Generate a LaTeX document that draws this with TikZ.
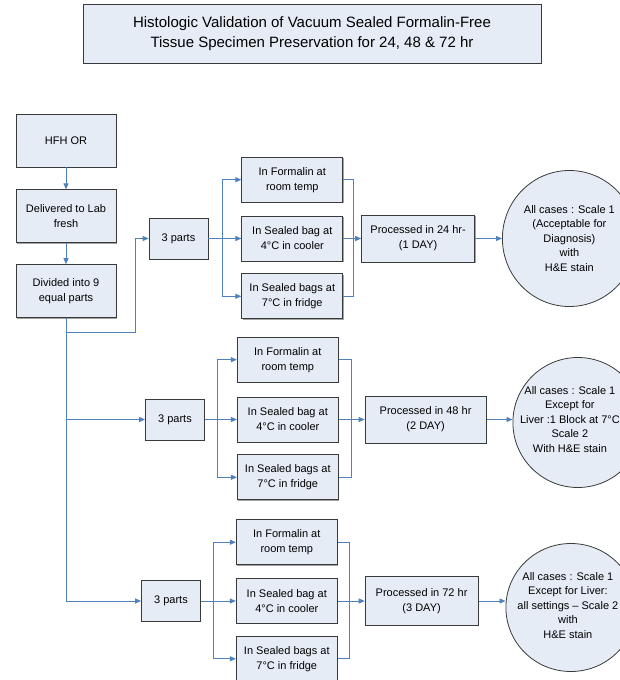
\documentclass[tikz,border=0pt]{standalone}
\usepackage{fontspec}
\setmainfont{Liberation Sans}
\usetikzlibrary{positioning,calc,shapes.geometric,arrows.meta,shadows}

\definecolor{boxfill}{HTML}{E6ECF6}
\definecolor{flowblue}{HTML}{4F81BD}
\definecolor{boxline}{HTML}{3A3A3A}

\tikzset{
  box/.style={draw=boxline, fill=boxfill, line width=0.8pt, align=center,
    inner sep=2pt, font=\fontsize{11}{15}\selectfont,
    drop shadow={shadow xshift=0.9pt, shadow yshift=-0.9pt, fill=black!60, opacity=0.6}},
  stage/.style={box, minimum width=100pt, minimum height=53pt},
  part/.style={box, minimum width=59pt, minimum height=41pt},
  cond/.style={box, minimum width=101pt, minimum height=45pt},
  proc/.style={box, minimum width=113pt, minimum height=47pt},
  result/.style={ellipse, draw=boxline, fill=boxfill, line width=0.8pt,
    inner sep=0pt, minimum width=132pt, minimum height=132pt},
  restext/.style={align=center, font=\fontsize{11}{14.5}\selectfont},
  flow/.style={draw=flowblue, line width=0.9pt, -{Triangle[length=6pt,width=5pt]}},
  link/.style={draw=flowblue, line width=0.9pt}
}

\begin{document}
\begin{tikzpicture}[x=1pt,y=1pt]
  \clip (0,0) rectangle (620,-680);

  % title
  \node[box, minimum width=458pt, minimum height=59pt,
        font=\fontsize{15}{20}\selectfont] (title) at (312,-33.5)
    {Histologic Validation of Vacuum Sealed Formalin-Free\\
     Tissue Specimen Preservation for 24, 48 \& 72 hr};

  % specimen path
  \node[stage]                    (hfh) at (66,-140.5) {HFH OR};
  \node[stage, below=22pt of hfh] (lab) {Delivered to Lab\\fresh};
  \node[stage, below=21pt of lab] (div) {Divided into 9\\equal parts};

  % 24 hr
  \node[part] (p24) at (178.5,-238.5) {3 parts};
  \node[cond, right=33pt of p24]  (c24) {In Sealed bag at\\4°C in cooler};
  \node[cond, above=13pt of c24]  (f24) {In Formalin at\\room temp};
  \node[cond, below=12pt of c24]  (r24) {In Sealed bags at\\7°C in fridge};
  \node[proc, right=18pt of c24]  (proc24) {Processed in 24 hr-\\(1 DAY)};
  \node[result, minimum width=134pt, minimum height=136pt,
        right=27pt of proc24, label={[restext]center:{All cases : Scale 1\\
        (Acceptable for\\Diagnosis)\\with\\H\&E stain}}] (res24) {};

  % 48 hr
  \node[part] (p48) at (175,-419.5) {3 parts};
  \node[cond, right=32pt of p48]  (c48) {In Sealed bag at\\4°C in cooler};
  \node[cond, above=14pt of c48]  (f48) {In Formalin at\\room temp};
  \node[cond, below=12pt of c48]  (r48) {In Sealed bags at\\7°C in fridge};
  \node[proc, minimum width=121pt, right=26pt of c48] (proc48)
    {Processed in 48 hr\\(2 DAY)};
  \node[result, minimum width=130pt, minimum height=130pt,
        right=26pt of proc48, yshift=-3pt,
        label={[restext, xshift=-8pt, yshift=3pt]center:{All cases : Scale 1\\
        Except for\\Liver :1 Block at 7°C\\Scale 2\\With H\&E stain}}] (res48) {};

  % 72 hr
  \node[part] (p72) at (171,-601) {3 parts};
  \node[cond, right=35pt of p72]  (c72) {In Sealed bag at\\4°C in cooler};
  \node[cond, above=13pt of c72]  (f72) {In Formalin at\\room temp};
  \node[cond, below=12pt of c72]  (r72) {In Sealed bags at\\7°C in fridge};
  \node[proc, minimum width=113pt, minimum height=49pt,
        right=27pt of c72] (proc72) {Processed in 72 hr\\(3 DAY)};
  \node[result, minimum width=130pt, minimum height=128pt,
        right=27pt of proc72, yshift=-6.5pt,
        label={[restext, xshift=-3pt, yshift=2pt]center:{All cases : Scale 1\\
        Except for Liver:\\all settings -- Scale 2\\with\\H\&E stain}}] (res72) {};

  % trunk
  \draw[flow] (hfh) -- (lab);
  \draw[flow] (lab) -- (div);
  \coordinate[below=14pt of div.south] (split);
  \draw[flow] (div.south) -- (split) -| ([xshift=-13pt]p24.west) -- (p24.west);
  \draw[flow] (div.south) |- (p48.west);
  \draw[flow] (div.south) |- (p72.west);

  % branches 24
  \coordinate (b24) at ($(p24.east)!0.42!(c24.west)$);
  \coordinate (m24) at ($(c24.east)!0.55!(proc24.west)$);
  \draw[flow] (p24.east) -- (c24.west);
  \draw[flow] (b24) |- (f24.west);
  \draw[flow] (b24) |- (r24.west);
  \draw[link] (f24.east) -| (m24) |- (r24.east);
  \draw[flow] (c24.east) -- (proc24.west);
  \draw[flow] (proc24.east) -- (proc24.east -| res24.west);

  % branches 48
  \coordinate (b48) at ($(p48.east)!0.4!(c48.west)$);
  \coordinate (m48) at ($(c48.east)!0.5!(proc48.west)$);
  \draw[flow] (p48.east) -- (c48.west);
  \draw[flow] (b48) |- (f48.west);
  \draw[flow] (b48) |- (r48.west);
  \draw[link] (f48.east) -| (m48) |- (r48.east);
  \draw[flow] (c48.east) -- (proc48.west);
  \draw[flow] (proc48.east) -- (proc48.east -| res48.west);

  % branches 72
  \coordinate (b72) at ($(p72.east)!0.37!(c72.west)$);
  \coordinate (m72) at ($(c72.east)!0.44!(proc72.west)$);
  \draw[flow] (p72.east) -- (c72.west);
  \draw[flow] (b72) |- (f72.west);
  \draw[flow] (b72) |- (r72.west);
  \draw[link] (f72.east) -| (m72) |- (r72.east);
  \draw[flow] (c72.east) -- (proc72.west);
  \draw[flow] (proc72.east) -- (proc72.east -| res72.west);
\end{tikzpicture}
\end{document}
